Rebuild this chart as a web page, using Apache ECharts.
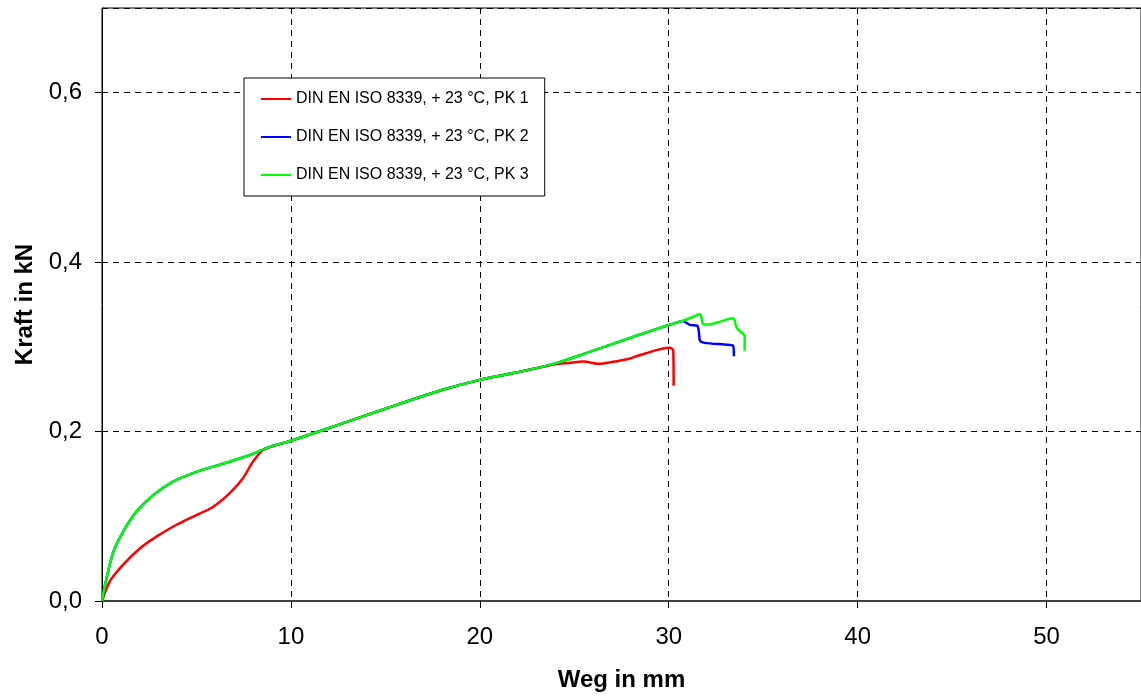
<!DOCTYPE html>
<html>
<head>
<meta charset="utf-8">
<title>Kraft-Weg</title>
<script src="https://cdn.jsdelivr.net/npm/echarts@6/dist/echarts.min.js"></script>
<style>
  html, body { margin: 0; padding: 0; background: #fff; }
  #chart { width: 1141px; height: 697px; }
</style>
</head>
<body>
<div id="chart"></div>
<script>
// Weg in mm / Kraft in kN
var names = [
    "DIN EN ISO 8339, + 23 °C, PK 1",
    "DIN EN ISO 8339, + 23 °C, PK 2",
    "DIN EN ISO 8339, + 23 °C, PK 3"
];

var pk1 = [
    [0, 0], [0.42, 0.0235], [1.12, 0.043], [2.0, 0.062], [2.88, 0.076],
    [3.94, 0.090], [5.0, 0.1015], [5.87, 0.111], [6.75, 0.127], [7.46, 0.145],
    [7.98, 0.164], [8.51, 0.178], [9.22, 0.184], [9.92, 0.1886], [12, 0.204],
    [15, 0.227], [18, 0.249], [20, 0.261], [22, 0.270], [24, 0.2795],
    [24.7, 0.281], [25.5, 0.2827], [26.3, 0.280], [26.97, 0.282], [27.9, 0.286],
    [28.4, 0.2898], [30.06, 0.2988], [30.24, 0.2957], [30.26, 0.254]
];

var pk2 = [
    [0, 0], [0.16, 0.019], [0.6, 0.058], [1.12, 0.082], [1.82, 0.1055],
    [2.71, 0.125], [3.76, 0.141], [5.0, 0.1525], [6.4, 0.162], [7.8, 0.172],
    [8.87, 0.182], [9.92, 0.1886], [12, 0.204], [15, 0.227], [18, 0.249],
    [20, 0.261], [22, 0.270], [24, 0.2805], [26, 0.2955], [28.4, 0.314],
    [29.8, 0.3243], [30.5, 0.3292], [30.76, 0.3305], [30.86, 0.3295], [31.12, 0.3259],
    [31.5, 0.325], [31.6, 0.317], [31.65, 0.3075], [31.9, 0.3047], [32.96, 0.3027],
    [33.4, 0.3016], [33.45, 0.289]
];

var pk3 = [
    [0, 0], [0.16, 0.019], [0.6, 0.058], [1.12, 0.082], [1.82, 0.1055],
    [2.71, 0.125], [3.76, 0.141], [5.0, 0.1525], [6.4, 0.162], [7.8, 0.172],
    [8.87, 0.182], [9.92, 0.1886], [12, 0.204], [15, 0.227], [18, 0.249],
    [20, 0.261], [22, 0.270], [24, 0.2805], [26, 0.2955], [28.4, 0.314],
    [29.8, 0.3243], [30.76, 0.331], [31.3, 0.3355], [31.65, 0.3388], [31.82, 0.327],
    [32.0, 0.3263], [32.61, 0.329], [33.4, 0.3337], [33.5, 0.331], [33.58, 0.323],
    [33.93, 0.3153], [34.02, 0.313], [34.02, 0.2955]
];

var colors = ["#ff0000", "#0000ff", "#00ff00"];
var font = "Liberation Sans, Arial, sans-serif";

function makeSeries(name, data, color) {
    return {
        name: name,
        type: "line",
        data: data,
        symbol: "none",
        smooth: 0.3,
        lineStyle: { color: color, width: 2.5 },
        itemStyle: { color: color },
        animation: false
    };
}

var chart = echarts.init(document.getElementById("chart"));
chart.setOption({
    animation: false,
    grid: {
        left: 102, right: 0, top: 8, bottom: 94,
        show: true, borderColor: "#000", borderWidth: 1
    },
    legend: {
        orient: "vertical",
        left: 244,
        top: 78,
        padding: [13, 16, 13, 17],
        itemGap: 22,
        itemWidth: 30,
        itemHeight: 2,
        itemTextGap: 5,
        icon: "rect",
        backgroundColor: "#fff",
        borderColor: "#000",
        borderWidth: 1,
        borderRadius: 0,
        textStyle: { fontFamily: font, fontSize: 16, color: "#000" },
        data: names
    },
    xAxis: {
        type: "value",
        min: 0, max: 55, interval: 10,
        name: "Weg in mm",
        nameLocation: "middle",
        nameGap: 67,
        nameTextStyle: { fontFamily: font, fontSize: 24, fontWeight: "bold", color: "#000" },
        axisLine: { onZero: false, lineStyle: { color: "#404040", width: 2 } },
        axisTick: { show: true, length: 7, lineStyle: { color: "#000" } },
        axisLabel: {
            fontFamily: font, fontSize: 24, color: "#000", margin: 24,
            showMaxLabel: false
        },
        splitLine: { show: true, lineStyle: { color: "#000", type: [6, 5], width: 1 } }
    },
    yAxis: {
        type: "value",
        min: 0, max: 0.7, interval: 0.2,
        name: "Kraft in kN",
        nameLocation: "middle",
        nameGap: 65,
        nameTextStyle: { fontFamily: font, fontSize: 24, fontWeight: "bold", color: "#000" },
        axisLine: { show: true, lineStyle: { color: "#000", width: 1 } },
        axisTick: { show: true, length: 7, lineStyle: { color: "#000" } },
        axisLabel: {
            fontFamily: font, fontSize: 24, color: "#000", margin: 20,
            showMaxLabel: false,
            formatter: function (v) { return v.toFixed(1).replace(".", ","); }
        },
        splitLine: { show: true, lineStyle: { color: "#000", type: [6, 5], width: 1 } }
    },
    series: [
        makeSeries(names[0], pk1, colors[0]),
        makeSeries(names[1], pk2, colors[1]),
        makeSeries(names[2], pk3, colors[2])
    ]
});
</script>
</body>
</html>
